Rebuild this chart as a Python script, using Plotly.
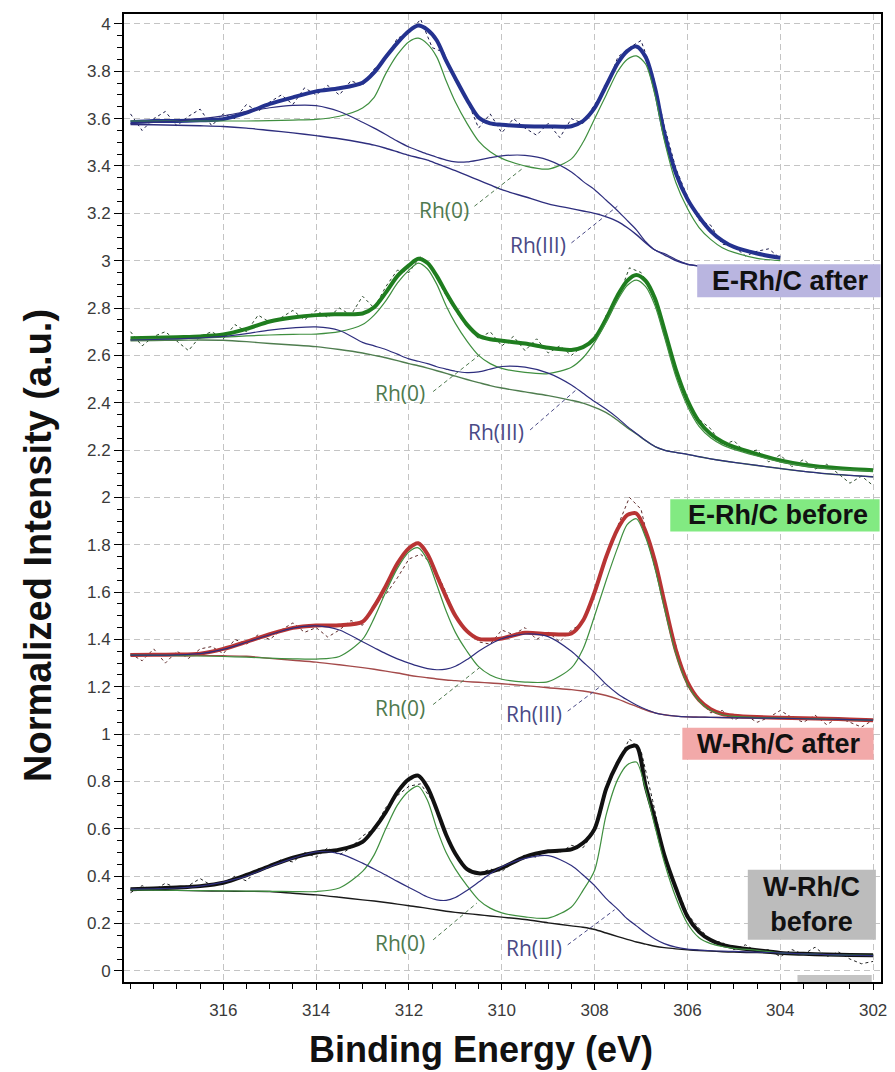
import plotly.graph_objects as go

# ---------------- data (binding energy grid for fitted curves) ----------------
BE_FIT = [318.0, 317.5, 317.0, 316.5, 316.0, 315.5, 315.0, 314.5, 314.0, 313.5,
          313.0, 312.75, 312.5, 312.25, 312.0, 311.8, 311.6, 311.4, 311.2, 311.0,
          310.75, 310.5, 310.25, 310.0, 309.5, 309.0, 308.5, 308.25, 308.0, 307.75,
          307.5, 307.3, 307.1, 306.9, 306.7, 306.5, 306.25, 306.0, 305.75, 305.5,
          305.25, 305.0, 304.5, 304.0, 303.5, 303.0, 302.5, 302.0]

BE_RAW = [318.0, 317.75, 317.5, 317.25, 317.0, 316.75, 316.5, 316.25, 316.0, 315.75,
          315.5, 315.25, 315.0, 314.75, 314.5, 314.25, 314.0, 313.75, 313.5, 313.25,
          313.0, 312.75, 312.5, 312.25, 312.0, 311.75, 311.5, 311.25, 311.0, 310.75,
          310.5, 310.25, 310.0, 309.75, 309.5, 309.25, 309.0, 308.75, 308.5, 308.25,
          308.0, 307.75, 307.5, 307.25, 307.0, 306.75, 306.5, 306.25, 306.0, 305.75,
          305.5, 305.25, 305.0, 304.75, 304.5, 304.25, 304.0, 303.75, 303.5, 303.25,
          303.0, 302.75, 302.5, 302.25, 302.0]

N = None

# E-Rh/C after
E_AFTER_ENV = [3.585, 3.59, 3.59, 3.593, 3.598, 3.625, 3.662, 3.69, 3.715, 3.728,
               3.752, 3.795, 3.86, 3.92, 3.97, 3.993, 3.975, 3.93, 3.845, 3.77,
               3.68, 3.605, 3.58, 3.574, 3.568, 3.567, 3.568, 3.59, 3.645, 3.74,
               3.835, 3.885, 3.905, 3.86, 3.73, 3.54, 3.37, 3.26, 3.185, 3.125,
               3.085, 3.058, 3.03, 3.012, N, N, N, N]
E_AFTER_RH0 = [3.59, 3.59, 3.59, 3.59, 3.59, 3.59, 3.592, 3.594, 3.597, 3.61,
               3.645, 3.69, 3.79, 3.87, 3.925, 3.94, 3.915, 3.86, 3.76, 3.67,
               3.58, 3.505, 3.46, 3.432, 3.4, 3.387, 3.43, 3.5, 3.6, 3.7,
               3.8, 3.85, 3.865, 3.83, 3.7, 3.51, 3.33, 3.22, 3.14, 3.09,
               3.055, 3.035, 3.01, 3.0, N, N, N, N]
E_AFTER_RH3 = [3.58, 3.585, 3.59, 3.6, 3.612, 3.63, 3.646, 3.656, 3.655, 3.63,
               3.585, 3.56, 3.533, 3.505, 3.48, 3.465, 3.45, 3.437, 3.425, 3.417,
               3.417, 3.425, 3.435, 3.443, 3.445, 3.425, 3.375, 3.335, 3.3, 3.255,
               3.21, 3.17, 3.13, 3.08, 3.045, 3.03, 3.005, 2.985, 2.978, N,
               N, N, N, N, N, N, N, N]
E_AFTER_BG = [3.575, 3.574, 3.572, 3.57, 3.567, 3.56, 3.55, 3.54, 3.528, 3.515,
              3.498, 3.488, 3.475, 3.46, 3.445, 3.435, 3.425, 3.41, 3.395, 3.38,
              3.36, 3.34, 3.32, 3.3, 3.27, 3.24, 3.22, 3.21, 3.2, 3.185,
              3.165, 3.14, 3.11, 3.075, 3.045, 3.025, 3.0, 2.985, 2.977, N,
              N, N, N, N, N, N, N, N]
E_AFTER_RAW = [3.62, 3.55, 3.60, 3.63, 3.57, 3.61, 3.64, 3.57, 3.62, 3.60,
               3.66, 3.63, 3.67, 3.70, 3.66, 3.73, 3.70, 3.74, 3.70, 3.76,
               3.74, 3.81, 3.85, 3.94, 3.96, 4.02, 3.90, 3.88, 3.76, 3.68,
               3.56, 3.62, 3.54, 3.60, 3.56, 3.53, 3.58, 3.52, 3.60, 3.58,
               3.66, 3.73, 3.86, 3.90, 3.93, 3.79, 3.57, 3.39, 3.27, 3.17,
               3.15, 3.07, 3.06, 3.02, 3.04, 3.05, 3.01, N, N, N,
               N, N, N, N, N]

# E-Rh/C before
E_BEFORE_ENV = [2.672, 2.674, 2.677, 2.68, 2.688, 2.712, 2.743, 2.76, 2.77, 2.774,
                2.777, 2.803, 2.865, 2.935, 2.98, 3.008, 2.99, 2.935, 2.865, 2.8,
                2.73, 2.683, 2.668, 2.662, 2.65, 2.632, 2.623, 2.635, 2.672, 2.755,
                2.855, 2.915, 2.94, 2.915, 2.84, 2.71, 2.54, 2.41, 2.32, 2.268,
                2.235, 2.213, 2.183, 2.156, 2.138, 2.127, 2.12, 2.115]
E_BEFORE_RH0 = [2.668, 2.669, 2.67, 2.673, 2.677, 2.682, 2.686, 2.689, 2.69, 2.7,
                2.73, 2.77, 2.83, 2.905, 2.96, 2.99, 2.965, 2.9, 2.81, 2.735,
                2.66, 2.6, 2.565, 2.545, 2.528, 2.523, 2.55, 2.59, 2.655, 2.74,
                2.835, 2.895, 2.918, 2.89, 2.81, 2.68, 2.51, 2.385, 2.3, 2.252,
                2.222, 2.203, 2.175, 2.15, 2.133, 2.122, 2.116, 2.11]
E_BEFORE_RH3 = [2.665, 2.667, 2.67, 2.674, 2.68, 2.692, 2.707, 2.716, 2.72, 2.705,
                2.655, 2.64, 2.625, 2.605, 2.585, 2.575, 2.565, 2.552, 2.542, 2.533,
                2.527, 2.53, 2.542, 2.553, 2.55, 2.525, 2.475, 2.44, 2.405, 2.372,
                2.335, 2.3, 2.27, 2.24, 2.215, 2.2, 2.19, 2.182, 2.172, 2.163,
                2.155, 2.148, 2.135, 2.122, 2.11, 2.1, 2.093, 2.087]
E_BEFORE_BG = [2.662, 2.663, 2.664, 2.665, 2.664, 2.658, 2.65, 2.644, 2.637, 2.625,
               2.61, 2.6, 2.59, 2.578, 2.565, 2.556, 2.546, 2.535, 2.524, 2.512,
               2.498, 2.485, 2.472, 2.462, 2.446, 2.43, 2.41, 2.398, 2.38, 2.358,
               2.325, 2.295, 2.268, 2.24, 2.215, 2.2, 2.19, 2.182, 2.172, 2.163,
               2.155, 2.148, 2.135, 2.122, 2.11, 2.1, 2.093, 2.087]
E_BEFORE_RAW = [2.70, 2.64, 2.68, 2.70, 2.66, 2.62, 2.68, 2.70, 2.67, 2.73,
                2.70, 2.77, 2.74, 2.76, 2.79, 2.75, 2.79, 2.76, 2.80, 2.77,
                2.85, 2.80, 2.89, 2.96, 2.95, 3.02, 2.97, 2.87, 2.79, 2.72,
                2.67, 2.70, 2.64, 2.68, 2.62, 2.67, 2.61, 2.64, 2.60, 2.64,
                2.66, 2.77, 2.84, 2.97, 2.95, 2.86, 2.70, 2.52, 2.40, 2.33,
                2.29, 2.22, 2.24, 2.19, 2.20, 2.15, 2.18, 2.13, 2.16, 2.12,
                2.14, 2.10, 2.06, 2.09, 2.05]

# W-Rh/C after
W_AFTER_ENV = [1.334, 1.335, 1.336, 1.34, 1.36, 1.39, 1.422, 1.449, 1.459, 1.46,
               1.475, 1.54, 1.625, 1.72, 1.785, 1.806, 1.76, 1.67, 1.58, 1.5,
               1.435, 1.402, 1.4, 1.404, 1.428, 1.423, 1.425, 1.48, 1.6, 1.75,
               1.868, 1.925, 1.932, 1.855, 1.73, 1.56, 1.355, 1.22, 1.145, 1.105,
               1.085, 1.078, 1.072, 1.069, 1.067, 1.065, 1.062, 1.059]
W_AFTER_RH0 = [1.334, 1.333, 1.332, 1.33, 1.328, 1.325, 1.321, 1.318, 1.317, 1.328,
               1.4, 1.49, 1.6, 1.7, 1.77, 1.787, 1.735, 1.63, 1.52, 1.43,
               1.35, 1.285, 1.25, 1.232, 1.22, 1.222, 1.28, 1.36, 1.5, 1.65,
               1.79, 1.885, 1.91, 1.83, 1.7, 1.535, 1.34, 1.21, 1.14, 1.1,
               1.082, 1.075, 1.07, 1.068, 1.066, 1.064, 1.061, 1.058]
W_AFTER_RH3 = [1.334, 1.334, 1.335, 1.34, 1.358, 1.388, 1.42, 1.448, 1.457, 1.44,
               1.39, 1.365, 1.34, 1.318, 1.3, 1.287, 1.277, 1.272, 1.275, 1.287,
               1.315, 1.35, 1.38, 1.403, 1.423, 1.412, 1.35, 1.305, 1.26, 1.21,
               1.17, 1.145, 1.123, 1.105, 1.09, 1.082, 1.076, 1.073, 1.072, 1.071,
               1.07, 1.069, 1.068, 1.067, 1.065, 1.063, 1.061, 1.059]
W_AFTER_BG = [1.334, 1.334, 1.333, 1.332, 1.331, 1.329, 1.32, 1.312, 1.304, 1.293,
              1.281, 1.274, 1.266, 1.258, 1.249, 1.243, 1.238, 1.233, 1.229, 1.226,
              1.222, 1.219, 1.216, 1.213, 1.205, 1.196, 1.188, 1.182, 1.174, 1.163,
              1.148, 1.132, 1.117, 1.102, 1.09, 1.082, 1.076, 1.073, 1.072, 1.071,
              1.07, 1.069, 1.068, 1.067, 1.065, 1.063, 1.061, 1.059]
W_AFTER_RAW = [1.34, 1.31, 1.36, 1.30, 1.35, 1.32, 1.36, 1.37, 1.34, 1.40,
               1.38, 1.42, 1.40, 1.44, 1.47, 1.43, 1.45, 1.41, 1.44, 1.48,
               1.46, 1.55, 1.59, 1.66, 1.74, 1.76, 1.72, 1.62, 1.50, 1.44,
               1.39, 1.38, 1.44, 1.42, 1.45, 1.40, 1.43, 1.39, 1.44, 1.47,
               1.61, 1.74, 1.88, 2.00, 1.95, 1.74, 1.55, 1.37, 1.20, 1.14,
               1.09, 1.10, 1.06, 1.08, 1.05, 1.07, 1.10, 1.07, 1.05, 1.08,
               1.04, 1.07, 1.05, 1.03, 1.06]

# W-Rh/C before
W_BEFORE_ENV = [0.345, 0.348, 0.352, 0.358, 0.372, 0.405, 0.443, 0.478, 0.5, 0.512,
                0.545, 0.6, 0.67, 0.755, 0.81, 0.825, 0.775, 0.68, 0.575, 0.495,
                0.43, 0.412, 0.418, 0.435, 0.482, 0.505, 0.513, 0.54, 0.6, 0.77,
                0.88, 0.94, 0.95, 0.78, 0.64, 0.49, 0.35, 0.23, 0.165, 0.13,
                0.11, 0.1, 0.087, 0.076, 0.072, 0.069, 0.067, 0.066]
W_BEFORE_RH0 = [0.342, 0.341, 0.34, 0.339, 0.338, 0.337, 0.336, 0.335, 0.335, 0.35,
                0.42, 0.49, 0.6, 0.7, 0.76, 0.78, 0.72, 0.6, 0.5, 0.43,
                0.36, 0.3, 0.265, 0.245, 0.228, 0.223, 0.27, 0.34, 0.425, 0.66,
                0.81, 0.87, 0.882, 0.765, 0.61, 0.46, 0.31, 0.2, 0.14, 0.115,
                0.103, 0.095, 0.087, 0.076, 0.072, 0.069, 0.067, 0.066]
W_BEFORE_RH3 = [0.345, 0.347, 0.35, 0.358, 0.375, 0.4, 0.44, 0.475, 0.503, 0.495,
                0.455, 0.43, 0.405, 0.378, 0.352, 0.332, 0.312, 0.3, 0.298, 0.31,
                0.34, 0.375, 0.41, 0.44, 0.475, 0.487, 0.445, 0.405, 0.36, 0.305,
                0.26, 0.22, 0.19, 0.16, 0.135, 0.115, 0.1, 0.092, 0.088, 0.085,
                0.083, 0.082, 0.079, 0.076, 0.072, 0.069, 0.066, 0.064]
W_BEFORE_BG = [0.342, 0.341, 0.34, 0.338, 0.337, 0.336, 0.335, 0.328, 0.321, 0.311,
               0.3, 0.295, 0.289, 0.282, 0.275, 0.27, 0.264, 0.258, 0.252, 0.247,
               0.242, 0.237, 0.232, 0.227, 0.217, 0.203, 0.19, 0.184, 0.175, 0.16,
               0.145, 0.133, 0.122, 0.113, 0.104, 0.098, 0.093, 0.089, 0.086, 0.084,
               0.081, 0.079, 0.077, 0.075, 0.072, 0.069, 0.066, 0.063]
W_BEFORE_RAW = [0.33, 0.36, 0.34, 0.37, 0.35, 0.36, 0.39, 0.36, 0.37, 0.40,
                0.38, 0.43, 0.44, 0.47, 0.46, 0.50, 0.48, 0.52, 0.49, 0.52,
                0.57, 0.60, 0.69, 0.74, 0.78, 0.79, 0.72, 0.60, 0.50, 0.43,
                0.41, 0.43, 0.42, 0.46, 0.49, 0.48, 0.51, 0.50, 0.53, 0.52,
                0.59, 0.78, 0.88, 0.98, 0.93, 0.72, 0.49, 0.36, 0.24, 0.18,
                0.13, 0.12, 0.09, 0.11, 0.08, 0.09, 0.06, 0.09, 0.07, 0.10,
                0.06, 0.08, 0.05, 0.03, 0.04]

SAMPLE_LABELS = ["E-Rh/C after", "E-Rh/C before", "W-Rh/C after", "W-Rh/C<br>before"]
X_TICKS = [316, 314, 312, 310, 308, 306, 304, 302]

# ---------------- styling ----------------
GREEN_C = "#3f8f3f"
NAVY_C = "#2e2e7e"
SPECTRA = [
    dict(env=E_AFTER_ENV, rh0=E_AFTER_RH0, rh3=E_AFTER_RH3, bg=E_AFTER_BG, raw=E_AFTER_RAW,
         env_c="#24328f", raw_c="#1c1c4a", bg_c="#2e2e7e"),
    dict(env=E_BEFORE_ENV, rh0=E_BEFORE_RH0, rh3=E_BEFORE_RH3, bg=E_BEFORE_BG, raw=E_BEFORE_RAW,
         env_c="#1f7d1f", raw_c="#2a482a", bg_c="#4f7d4f"),
    dict(env=W_AFTER_ENV, rh0=W_AFTER_RH0, rh3=W_AFTER_RH3, bg=W_AFTER_BG, raw=W_AFTER_RAW,
         env_c="#b83434", raw_c="#5e2a2a", bg_c="#a44a4a"),
    dict(env=W_BEFORE_ENV, rh0=W_BEFORE_RH0, rh3=W_BEFORE_RH3, bg=W_BEFORE_BG, raw=W_BEFORE_RAW,
         env_c="#111111", raw_c="#222222", bg_c="#1a1a1a"),
]

fig = go.Figure()
for sp in SPECTRA:
    fig.add_trace(go.Scatter(x=BE_RAW, y=sp["raw"], mode="lines",
                             line=dict(color=sp["raw_c"], width=1, dash="3px,3px"),
                             hoverinfo="skip", showlegend=False))
    fig.add_trace(go.Scatter(x=BE_FIT, y=sp["env"], mode="lines",
                             line=dict(color=sp["env_c"], width=4, shape="spline", smoothing=0.8),
                             showlegend=False))
    fig.add_trace(go.Scatter(x=BE_FIT, y=sp["bg"], mode="lines",
                             line=dict(color=sp["bg_c"], width=1.4, shape="spline", smoothing=0.8),
                             showlegend=False))
    fig.add_trace(go.Scatter(x=BE_FIT, y=sp["rh0"], mode="lines",
                             line=dict(color=GREEN_C, width=1.2, shape="spline", smoothing=0.8),
                             showlegend=False))
    fig.add_trace(go.Scatter(x=BE_FIT, y=sp["rh3"], mode="lines",
                             line=dict(color=NAVY_C, width=1.2, shape="spline", smoothing=0.8),
                             showlegend=False))

# --------- Rh(0) / Rh(III) labels with dashed leaders ---------
LBL_FONT = "Open Sans, Noto Sans, sans-serif"
leaders = [
    # text, x, y, x0, y0, x1, y1, color
    ("Rh(0)", 311.25, 3.215, 310.59, 3.23, 309.55, 3.39, "#4f7a4f"),
    ("Rh(III)", 309.21, 3.068, 308.5, 3.075, 307.51, 3.23, "#4a4a86"),
    ("Rh(0)", 312.19, 2.44, 311.48, 2.447, 310.44, 2.608, "#4f7a4f"),
    ("Rh(III)", 310.12, 2.277, 309.39, 2.285, 308.4, 2.454, "#4a4a86"),
    ("Rh(0)", 312.19, 1.111, 311.48, 1.125, 310.44, 1.287, "#4f7a4f"),
    ("Rh(III)", 309.31, 1.083, 308.58, 1.097, 307.77, 1.217, "#4a4a86"),
    ("Rh(0)", 312.19, 0.117, 311.48, 0.131, 310.54, 0.286, "#4f7a4f"),
    ("Rh(III)", 309.31, 0.096, 308.58, 0.11, 307.57, 0.258, "#4a4a86"),
]
shapes = []
annotations = []
for t, tx, ty, x0, y0, x1, y1, c in leaders:
    annotations.append(dict(x=tx, y=ty, xref="x", yref="y", text=t, showarrow=False,
                            font=dict(family=LBL_FONT, size=21, color=c),
                            xanchor="center", yanchor="middle"))
    shapes.append(dict(type="line", xref="x", yref="y", x0=x0, y0=y0, x1=x1, y1=y1,
                       line=dict(color=c, width=1, dash="4px,3px"), layer="above"))

# --------- sample label boxes ---------
boxes = [
    (SAMPLE_LABELS[0], 305.79, 301.84, 2.846, 2.985, 303.78, 2.916, "#b9b5e0"),
    (SAMPLE_LABELS[1], 306.37, 301.86, 1.856, 1.992, 304.06, 1.924, "#82ea82"),
    (SAMPLE_LABELS[2], 306.11, 301.99, 0.892, 1.027, 304.04, 0.96, "#f2a9a9"),
    (SAMPLE_LABELS[3], 304.7, 301.94, 0.131, 0.427, 303.33, 0.279, "#bcbcbc"),
]
for text, bx0, bx1, by0, by1, tx, ty, fc in boxes:
    shapes.append(dict(type="rect", xref="x", yref="y", x0=bx0, x1=bx1, y0=by0, y1=by1,
                       fillcolor=fc, line=dict(width=0), layer="above"))
    annotations.append(dict(x=tx, y=ty, xref="x", yref="y", text=text, showarrow=False,
                            font=dict(family="Liberation Sans, Arial, sans-serif", size=27,
                                      color="#111111", weight="bold"),
                            xanchor="center", yanchor="middle"))
# small grey strip at the bottom right
shapes.append(dict(type="rect", xref="x", yref="y", x0=303.63, x1=302.03, y0=-0.047, y1=-0.017,
                   fillcolor="#c4c4c4", line=dict(width=0), layer="above"))

# axis titles
annotations.append(dict(x=0.472, y=-0.07, xref="paper", yref="paper",
                        text="Binding Energy (eV)", showarrow=False,
                        font=dict(family="Liberation Sans, Arial, sans-serif", size=36,
                                  color="#111111", weight="bold"),
                        xanchor="center", yanchor="middle"))
annotations.append(dict(x=-0.113, y=0.451, xref="paper", yref="paper",
                        text="Normalized Intensity (a.u.)", showarrow=False, textangle=-90,
                        font=dict(family="Liberation Sans, Arial, sans-serif", size=38,
                                  color="#111111", weight="bold"),
                        xanchor="center", yanchor="middle"))

fig.update_layout(
    width=895, height=1072,
    margin=dict(l=124, r=8, t=14, b=90),
    paper_bgcolor="white", plot_bgcolor="white",
    shapes=shapes, annotations=annotations,
    showlegend=False,
)
fig.update_xaxes(range=[318.14, 301.83], tickvals=X_TICKS, ticks="outside", ticklen=6,
                 tickcolor="black", tickwidth=1,
                 minor=dict(dtick=0.5, tick0=302, ticks="outside", ticklen=5, tickcolor="black",
                            showgrid=False),
                 showgrid=True, gridcolor="#c4c4c4", griddash="6px,4px", gridwidth=1,
                 showline=True, mirror=True, linecolor="black", linewidth=2, zeroline=False,
                 ticklabelstandoff=6,
                 tickfont=dict(family="Liberation Sans, Arial, sans-serif", size=17, color="#3a3a3a"))
fig.update_yaxes(range=[-0.047, 4.042], dtick=0.2, tick0=0, ticks="outside", ticklen=8,
                 tickcolor="black", tickwidth=1,
                 minor=dict(dtick=0.05, tick0=0, ticks="outside", ticklen=5, tickcolor="black",
                            showgrid=False),
                 showgrid=True, gridcolor="#c4c4c4", griddash="6px,4px", gridwidth=1,
                 showline=True, mirror=True, linecolor="black", linewidth=2, zeroline=False,
                 tickfont=dict(family="Liberation Sans, Arial, sans-serif", size=17, color="#3a3a3a"))

fig.write_html("out.html")
